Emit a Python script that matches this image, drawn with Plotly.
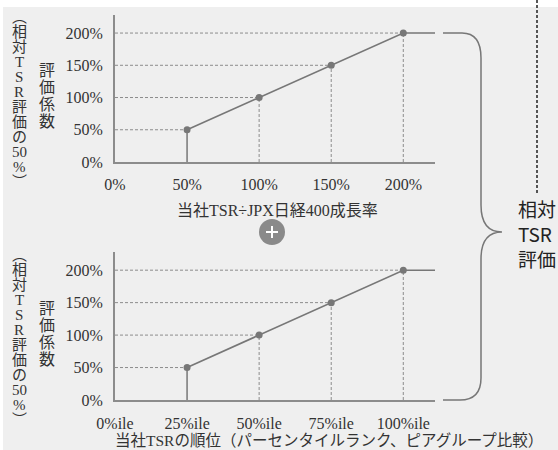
import plotly.graph_objects as go

W, H = 558, 450

# ---- data ----
top_ratio = [50, 100, 150, 200]          # 当社TSR÷JPX日経400成長率 (%)
top_coef = [50, 100, 150, 200]           # 評価係数 (%)
top_xmax = 222
top_ticks = [0, 50, 100, 150, 200]
top_ticktext = ["0%", "50%", "100%", "150%", "200%"]

bot_pct = [25, 50, 75, 100]              # percentile rank
bot_coef = [50, 100, 150, 200]
bot_xmax = 111
bot_ticks = [0, 25, 50, 75, 100]
bot_ticktext = ["0%ile", "25%ile", "50%ile", "75%ile", "100%ile"]

y_ticks = [0, 50, 100, 150, 200]
y_ticktext = ["0%", "50%", "100%", "150%", "200%"]
y_max = 228

outer_label = ["︵", "相", "対", "T", "S", "R", "評", "価", "の", "50", "%", "︶"]
inner_label = ["評", "価", "係", "数"]
right_label = ["相対", "TSR", "評価"]

GRAY = "#777777"
AXIS = "#8c8c8c"
GRID = "#8c8c8c"
TXT = "#333333"
SERIF = "Liberation Serif, Noto Sans CJK JP"
SANS = "Noto Sans CJK JP"


def px(x):  # pixel -> paper fraction
    return x / W


def py(y):
    return 1 - y / H


fig = go.Figure()


def add_panel(xs, ys, xmax, xa, ya):
    for x, y in zip(xs, ys):
        fig.add_trace(go.Scatter(x=[0, x], y=[y, y], mode="lines", xaxis=xa, yaxis=ya,
                                 line=dict(color=GRID, width=1, dash="3px,2px"),
                                 hoverinfo="skip", showlegend=False))
    for i, (x, y) in enumerate(zip(xs, ys)):
        fig.add_trace(go.Scatter(x=[x, x], y=[0, y], mode="lines", xaxis=xa, yaxis=ya,
                                 line=dict(color=GRAY if i == 0 else GRID,
                                           width=1.5 if i == 0 else 1,
                                           dash="solid" if i == 0 else "3px,2px"),
                                 hoverinfo="skip", showlegend=False))
    fig.add_trace(go.Scatter(x=xs + [xmax], y=ys + [ys[-1]], mode="lines", xaxis=xa, yaxis=ya,
                             line=dict(color=GRAY, width=1.6), hoverinfo="skip", showlegend=False))
    fig.add_trace(go.Scatter(x=xs, y=ys, mode="markers", xaxis=xa, yaxis=ya,
                             marker=dict(color=GRAY, size=7), showlegend=False))


add_panel(top_ratio, top_coef, top_xmax, "x", "y")
add_panel(bot_pct, bot_coef, bot_xmax, "x2", "y2")

axis_common = dict(showgrid=False, zeroline=False, showline=True, linecolor=AXIS, linewidth=2,
                   ticks="", tickfont=dict(family=SERIF, size=16, color=TXT), fixedrange=True,
                   automargin=False)

fig.update_layout(
    width=W, height=H, margin=dict(l=0, r=0, t=0, b=0, pad=0), autosize=False,
    paper_bgcolor="#efefef", plot_bgcolor="rgba(0,0,0,0)",
    xaxis=dict(domain=[px(115), px(435)], range=[0, top_xmax], anchor="y",
               tickvals=top_ticks, ticktext=top_ticktext, ticklabelstandoff=7, **axis_common),
    yaxis=dict(domain=[py(162), py(15)], range=[0, y_max], anchor="x",
               tickvals=y_ticks, ticktext=y_ticktext, ticklabelstandoff=7, **axis_common),
    xaxis2=dict(domain=[px(115), px(435)], range=[0, bot_xmax], anchor="y2",
                tickvals=bot_ticks, ticktext=bot_ticktext, ticklabelstandoff=8, **axis_common),
    yaxis2=dict(domain=[py(400), py(252)], range=[0, y_max], anchor="x2",
                tickvals=y_ticks, ticktext=y_ticktext, ticklabelstandoff=7, **axis_common),
)

ann = []
shapes = []

for off in (0, 238):
    n = len(outer_label)
    for i, ch in enumerate(outer_label):
        yc = 17 + i * (182 - 17) / (n - 1) + off
        ann.append(dict(x=px(19), y=py(yc), xref="paper", yref="paper", text=ch,
                        showarrow=False, xanchor="center", yanchor="middle",
                        font=dict(family=SERIF, size=15, color=TXT)))
    for i, ch in enumerate(inner_label):
        yc = 70 + i * 17.3 + off
        ann.append(dict(x=px(47), y=py(yc), xref="paper", yref="paper", text=ch,
                        showarrow=False, xanchor="center", yanchor="middle",
                        font=dict(family=SERIF, size=16, color=TXT)))

ann.append(dict(x=px(277), y=py(210), xref="paper", yref="paper",
                text="当社TSR÷JPX日経400成長率", showarrow=False,
                xanchor="center", yanchor="middle", font=dict(family=SERIF, size=16, color=TXT)))
ann.append(dict(x=px(113), y=py(440), xref="paper", yref="paper",
                text="当社TSRの順位（パーセンタイルランク、ピアグループ比較）", showarrow=False,
                xanchor="left", yanchor="middle", font=dict(family=SERIF, size=15.5, color=TXT)))

for i, t in enumerate(right_label):
    ann.append(dict(x=px(516), y=py(208 + 25 * i), xref="paper", yref="paper",
                    text=t, showarrow=False, align="left",
                    xanchor="left", yanchor="middle",
                    font=dict(family=SANS, size=19, color="#222222")))

shapes.append(dict(type="circle", xref="paper", yref="paper",
                   x0=px(259), x1=px(285), y0=py(245), y1=py(219),
                   fillcolor="#8a8a8a", line=dict(width=0)))
shapes.append(dict(type="line", xref="paper", yref="paper", x0=px(266), x1=px(278),
                   y0=py(232), y1=py(232), line=dict(color="white", width=2)))
shapes.append(dict(type="line", xref="paper", yref="paper", x0=px(272), x1=px(272),
                   y0=py(226), y1=py(238), line=dict(color="white", width=2)))


def P(x, y):
    return f"{px(x):.5f},{py(y):.5f}"


brace = ("M " + P(443, 33) + " L " + P(462, 33) +
         " Q " + P(481, 33) + " " + P(481, 58) +
         " L " + P(481, 205) +
         " Q " + P(481, 232) + " " + P(502, 232) +
         " Q " + P(481, 232) + " " + P(481, 259) +
         " L " + P(481, 378) +
         " Q " + P(481, 400) + " " + P(460, 400) +
         " L " + P(443, 400))
shapes.append(dict(type="path", xref="paper", yref="paper", path=brace,
                   line=dict(color="#777777", width=1.5)))

shapes.append(dict(type="line", xref="paper", yref="paper", x0=px(537), x1=px(537),
                   y0=py(0), y1=py(195), line=dict(color="#222222", width=1.5, dash="3px,2px")))

# white page edges (top and left)
shapes.append(dict(type="rect", xref="paper", yref="paper", x0=0, x1=1, y0=py(7), y1=1,
                   fillcolor="white", line=dict(width=0), layer="below"))
shapes.append(dict(type="rect", xref="paper", yref="paper", x0=0, x1=px(3), y0=0, y1=1,
                   fillcolor="white", line=dict(width=0), layer="below"))

fig.update_layout(annotations=ann, shapes=shapes)

fig.write_html("out.html", config={"displayModeBar": False},
               post_script="document.body.style.margin='0';document.body.style.overflow='hidden';")
